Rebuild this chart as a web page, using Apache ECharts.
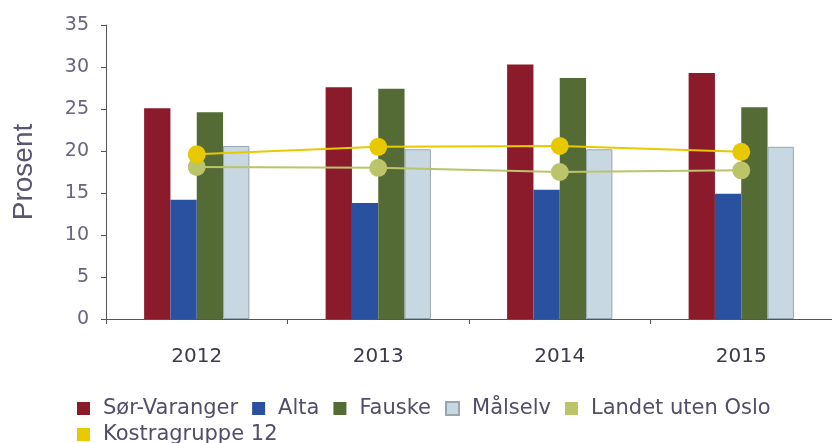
<!DOCTYPE html>
<html>
<head>
<meta charset="utf-8">
<script src="https://cdn.jsdelivr.net/npm/echarts@6/dist/echarts.min.js"></script>
<style>
  html, body { margin: 0; padding: 0; background: #ffffff; }
  #main { width: 832px; height: 443px; }
</style>
</head>
<body>
<div id="main"></div>
<script>
// år (x-akse)
const years = ['2012', '2013', '2014', '2015'];
// kommuner, søyler
const sorVaranger = [25.1, 27.6, 30.3, 29.3];
const alta = [14.2, 13.8, 15.4, 14.9];
const fauske = [24.6, 27.4, 28.7, 25.2];
const malselv = [20.6, 20.2, 20.2, 20.5];
// sammenligning, linjer
const landetUtenOslo = [18.1, 18.0, 17.5, 17.7];
const kostragruppe12 = [19.6, 20.5, 20.6, 19.9];
const yTicks = [0, 5, 10, 15, 20, 25, 30, 35];

const myChart = echarts.init(document.getElementById('main'));

const barSeries = (name, data, color, border) => ({
  name: name,
  type: 'bar',
  data: data,
  barGap: '0%',
  barCategoryGap: '42%',
  itemStyle: {
    color: color,
    borderColor: border || color,
    borderWidth: border ? 1 : 0,
  },
});

const lineSeries = (name, data, color) => ({
  name: name,
  type: 'line',
  data: data,
  symbol: 'circle',
  symbolSize: 18,
  lineStyle: { color: color, width: 2 },
  itemStyle: { color: color },
  z: 5,
});

// legenden brytes manuelt i to rader
const legendBase = (top, names) => ({
  left: 77,
  top: top,
  padding: 0,
  icon: 'rect',
  itemWidth: 13,
  itemHeight: 13,
  itemGap: 14,
  textStyle: {
    color: '#524d68',
    fontSize: 21,
    lineHeight: 14,
    fontFamily: 'DejaVu Sans',
    padding: [0, 0, 0, 8],
  },
  data: names,
});

myChart.setOption({
  animation: false,
  color: ['#8b1a2b', '#2a51a0', '#556b35', '#c8d8e2', '#bcc46a', '#e8c800'],
  legend: [
    legendBase(398, ['Sør-Varanger', 'Alta', 'Fauske', 'Målselv', 'Landet uten Oslo']),
    legendBase(424, ['Kostragruppe 12']),
  ],
  grid: {
    left: 106,
    right: 0,
    top: 25,
    bottom: 124,
    outerBoundsMode: 'none',
  },
  xAxis: {
    type: 'category',
    data: years,
    axisLine: { lineStyle: { color: '#555555', width: 1 } },
    axisTick: { show: true, length: 5, alignWithLabel: false, lineStyle: { color: '#555555' } },
    axisLabel: { color: '#3a3a4a', fontSize: 20, fontFamily: 'DejaVu Sans', margin: 28 },
  },
  yAxis: {
    type: 'value',
    min: yTicks[0],
    max: yTicks[yTicks.length - 1],
    interval: 5,
    name: 'Prosent',
    nameLocation: 'middle',
    nameGap: 68,
    nameTextStyle: { color: '#5a5570', fontSize: 28, fontFamily: 'Liberation Sans' },
    axisLine: { show: true, lineStyle: { color: '#555555', width: 1 } },
    axisTick: { show: true, length: 5, lineStyle: { color: '#555555' } },
    axisLabel: { color: '#6a6480', fontSize: 19, fontFamily: 'DejaVu Sans', margin: 17 },
    splitLine: { show: false },
  },
  series: [
    barSeries('Sør-Varanger', sorVaranger, '#8b1a2b'),
    barSeries('Alta', alta, '#2a51a0'),
    barSeries('Fauske', fauske, '#556b35'),
    barSeries('Målselv', malselv, '#c8d8e2', '#9aa6ad'),
    lineSeries('Landet uten Oslo', landetUtenOslo, '#bcc46a'),
    lineSeries('Kostragruppe 12', kostragruppe12, '#e8c800'),
  ],
});
</script>
</body>
</html>
